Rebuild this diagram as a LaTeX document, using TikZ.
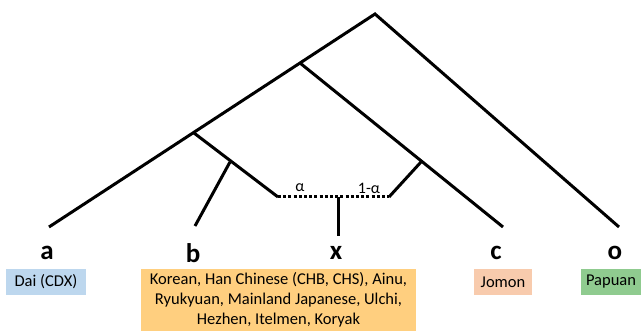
\documentclass[tikz,border=0pt]{standalone}
\usepackage{fontspec}
\setmainfont{Carlito}
\definecolor{cblue}{HTML}{BDD7EE}
\definecolor{corange}{HTML}{FFCF7F}
\definecolor{cpink}{HTML}{F8CBAD}
\definecolor{cgreen}{HTML}{8FCB8F}
\begin{document}
\begin{tikzpicture}[x=1pt,y=-1pt,
  br/.style={line width=3pt,line cap=butt},
  lett/.style={font=\fontsize{27}{29}\selectfont\bfseries,inner sep=0pt},
  lab/.style={font=\fontsize{16.5}{20}\selectfont,inner sep=0pt,align=center},
  gk/.style={font=\fontsize{16}{18}\selectfont,inner sep=0pt}]
\useasboundingbox (0,0) rectangle (641,331);
\coordinate (root) at (375,14);
\coordinate (ea) at (49,227);
\coordinate (eo) at (619,227);
\coordinate (n1) at (300,63);
\coordinate (ec) at (503,227);
\coordinate (n2) at (194,133);
\coordinate (dl) at (278,197);
\coordinate (nb) at (230,162);
\coordinate (eb) at (195,226);
\coordinate (nc) at (421,162);
\coordinate (dr) at (389,197);
\coordinate (xm) at (338,197);
\coordinate (ex) at (338,236);
\draw[br] (ea) -- (root) -- (eo);
\draw[br] (n1) -- (ec);
\draw[br] (n2) -- (dl);
\draw[br] (nb) -- (eb);
\draw[br] (nc) -- (dr);
\draw[line width=3pt,dash pattern=on 3pt off 2.2pt] (dl) -- (dr);
\draw[br] (xm) -- (ex);
\node[gk] (al) at (300,188) {α};
\node[gk] (al2) at (369,188) {1-α};
\node[lett] (la) at (47,253) {a};
\node[lett] (lb) at (193,253) {b};
\node[lett] (lx) at (336,253) {x};
\node[lett] (lc) at (496,253) {c};
\node[lett] (lo) at (615,253) {o};
\fill[cblue] (6,269) rectangle (86,295);
\node[lab] (ta) at (46,282) {Dai (CDX)};
\fill[corange] (141,269) rectangle (416,331);
\node[lab] (tx) at (278.5,300) {Korean, Han Chinese (CHB, CHS), Ainu,\\Ryukyuan, Mainland Japanese, Ulchi,\\Hezhen, Itelmen, Koryak};
\fill[cpink] (474,269) rectangle (532,295);
\node[lab] (tc) at (503,282) {Jomon};
\fill[cgreen] (581,269) rectangle (641,295);
\node[lab] (to) at (611,282) {Papuan};
\end{tikzpicture}
\end{document}
